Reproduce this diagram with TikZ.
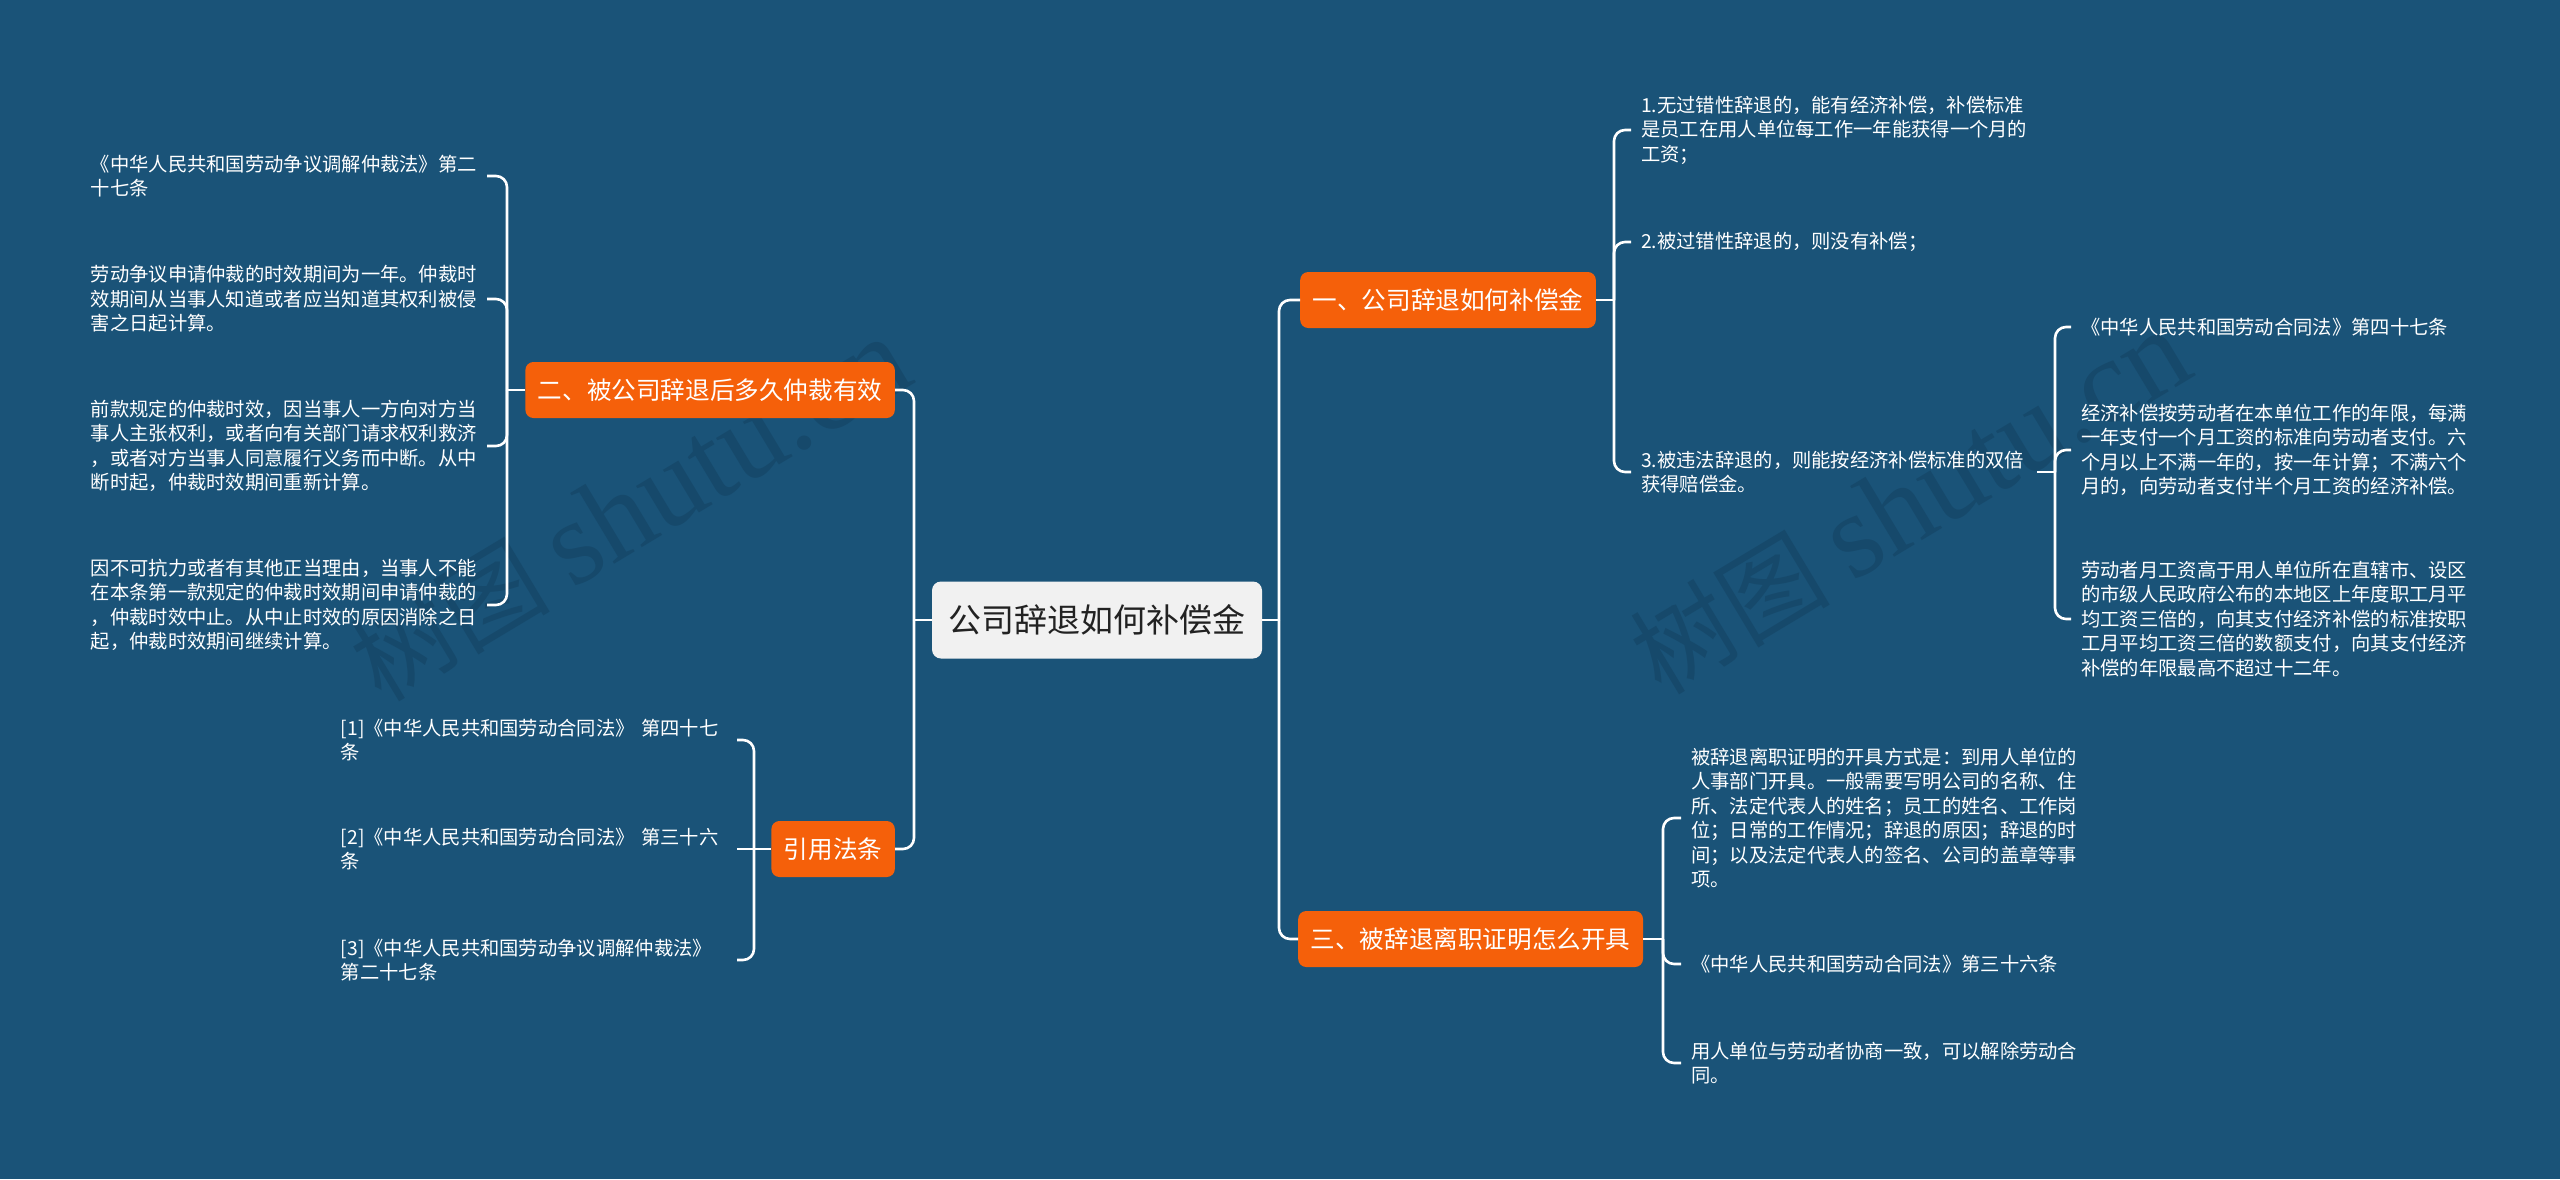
\documentclass[tikz,border=0pt]{standalone}
\usepackage{fontspec}
\setmainfont{Noto Sans CJK SC}
\newfontfamily\wmserif{Liberation Serif}
\definecolor{bgblue}{RGB}{26,83,120}
\definecolor{orng}{RGB}{245,96,10}
\definecolor{rootfill}{RGB}{241,241,241}
\definecolor{roottext}{RGB}{34,34,34}
\definecolor{wmark}{RGB}{22,73,107}
\begin{document}
\begin{tikzpicture}[x=1pt,y=-1pt,
  conn/.style={draw=white, line width=2.6pt, rounded corners=11pt},
  rootbox/.style={fill=rootfill, text=roottext, rounded corners=9pt, minimum width=330pt, minimum height=77pt, font=\fontsize{33}{40}\selectfont, inner sep=0pt},
  branch/.style={fill=orng, text=white, rounded corners=8pt, minimum height=56pt, inner xsep=12.5pt, inner ysep=0pt, font=\fontsize{24.6}{30}\selectfont},
  leaf/.style={text=white, text width=386pt, align=left, inner xsep=10pt, inner ysep=0pt, font=\fontsize{19.3}{24.5}\selectfont},
  wm/.style={text=wmark, rotate=31, inner sep=0pt}
]
\useasboundingbox (0,0) rectangle (2560,1179);
\fill[bgblue] (0,0) rectangle (2560,1179);

% watermarks
\node[wm] (wm1) at (630,510) {\fontsize{100}{110}\selectfont 树图 {\wmserif\fontsize{120}{130}\selectfont shutu.cn}};
\node[wm] (wm2) at (1910,503) {\fontsize{100}{110}\selectfont 树图 {\wmserif\fontsize{120}{130}\selectfont shutu.cn}};

% central and branch nodes
\node[rootbox] (root) at (1097,620) {公司辞退如何补偿金};
\node[branch, anchor=west] (b1) at (1300,300) {一、公司辞退如何补偿金};
\node[branch, anchor=west] (b3) at (1298,939) {三、被辞退离职证明怎么开具};
\node[branch, anchor=east] (b2) at (895,390) {二、被公司辞退后多久仲裁有效};
\node[branch, anchor=east] (b4) at (895,849) {引用法条};

% leaves of branch one
\node[leaf, anchor=west] (a1) at (1631,130) {1.无过错性辞退的，能有经济补偿，补偿标准\\是员工在用人单位每工作一年能获得一个月的\\工资；};
\node[leaf, anchor=west] (a2) at (1631,242) {2.被过错性辞退的，则没有补偿；};
\node[leaf, anchor=west] (a3) at (1631,472) {3.被违法辞退的，则能按经济补偿标准的双倍\\获得赔偿金。};
\node[leaf, anchor=west] (g1) at (2071,327) {《中华人民共和国劳动合同法》第四十七条};
\node[leaf, anchor=west] (g2) at (2071,450) {经济补偿按劳动者在本单位工作的年限，每满\\一年支付一个月工资的标准向劳动者支付。六\\个月以上不满一年的，按一年计算；不满六个\\月的，向劳动者支付半个月工资的经济补偿。};
\node[leaf, anchor=west] (g3) at (2071,619) {劳动者月工资高于用人单位所在直辖市、设区\\的市级人民政府公布的本地区上年度职工月平\\均工资三倍的，向其支付经济补偿的标准按职\\工月平均工资三倍的数额支付，向其支付经济\\补偿的年限最高不超过十二年。};

% leaves of branch three
\node[leaf, anchor=west] (c1) at (1681,818) {被辞退离职证明的开具方式是：到用人单位的\\人事部门开具。一般需要写明公司的名称、住\\所、法定代表人的姓名；员工的姓名、工作岗\\位；日常的工作情况；辞退的原因；辞退的时\\间；以及法定代表人的签名、公司的盖章等事\\项。};
\node[leaf, anchor=west] (c2) at (1681,964) {《中华人民共和国劳动合同法》第三十六条};
\node[leaf, anchor=west] (c3) at (1681,1063) {用人单位与劳动者协商一致，可以解除劳动合\\同。};

% leaves of branch two
\node[leaf, anchor=east] (d1) at (487,176) {《中华人民共和国劳动争议调解仲裁法》第二\\十七条};
\node[leaf, anchor=east] (d2) at (487,299) {劳动争议申请仲裁的时效期间为一年。仲裁时\\效期间从当事人知道或者应当知道其权利被侵\\害之日起计算。};
\node[leaf, anchor=east] (d3) at (487,446) {前款规定的仲裁时效，因当事人一方向对方当\\事人主张权利，或者向有关部门请求权利救济\\，或者对方当事人同意履行义务而中断。从中\\断时起，仲裁时效期间重新计算。};
\node[leaf, anchor=east] (d4) at (487,605) {因不可抗力或者有其他正当理由，当事人不能\\在本条第一款规定的仲裁时效期间申请仲裁的\\，仲裁时效中止。从中止时效的原因消除之日\\起，仲裁时效期间继续计算。};

% leaves of citations
\node[leaf, anchor=east] (e1) at (737,740) {[1]《中华人民共和国劳动合同法》 第四十七\\条};
\node[leaf, anchor=east] (e2) at (737,849) {[2]《中华人民共和国劳动合同法》 第三十六\\条};
\node[leaf, anchor=east] (e3) at (737,960) {[3]《中华人民共和国劳动争议调解仲裁法》\\第二十七条};

% bus points
\coordinate (rL) at (914,620);
\coordinate (rR) at (1279,620);
\coordinate (k1) at (1614,300);
\coordinate (k3) at (1663,939);
\coordinate (ka) at (2055,472);
\coordinate (k2) at (507,390);
\coordinate (k4) at (754,849);

% connectors
\draw[conn] (root.west) -- (rL);
\draw[conn] (rL) |- (b2.east);
\draw[conn] (rL) |- (b4.east);
\draw[conn] (root.east) -- (rR);
\draw[conn] (rR) |- (b1.west);
\draw[conn] (rR) |- (b3.west);

\draw[conn] (b1.east) -- (k1);
\draw[conn] (k1) |- (a1.west);
\draw[conn] (k1) |- (a2.west);
\draw[conn] (k1) |- (a3.west);

\draw[conn] (a3.east) -- (ka);
\draw[conn] (ka) |- (g1.west);
\draw[conn] (ka) |- (g2.west);
\draw[conn] (ka) |- (g3.west);

\draw[conn] (b3.east) -- (k3);
\draw[conn] (k3) |- (c1.west);
\draw[conn] (k3) |- (c2.west);
\draw[conn] (k3) |- (c3.west);

\draw[conn] (b2.west) -- (k2);
\draw[conn] (k2) |- (d1.east);
\draw[conn] (k2) |- (d2.east);
\draw[conn] (k2) |- (d3.east);
\draw[conn] (k2) |- (d4.east);

\draw[conn] (b4.west) -- (k4);
\draw[conn] (k4) |- (e1.east);
\draw[conn] (k4) -- (e2.east);
\draw[conn] (k4) |- (e3.east);
\end{tikzpicture}
\end{document}
